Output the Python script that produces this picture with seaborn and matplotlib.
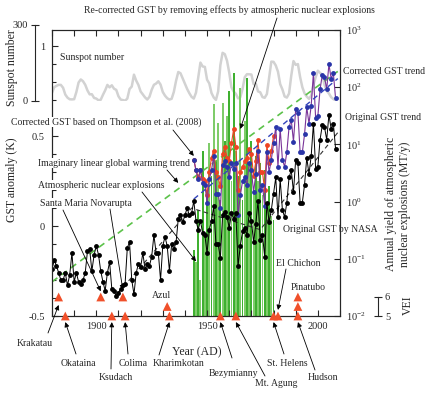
import numpy as np
import matplotlib
matplotlib.use("Agg")
import matplotlib.pyplot as plt
import matplotlib.ticker as mticker
import seaborn as sns

# ---------------- data ----------------
years = np.arange(1880, 2009)
gst_nasa = [-0.24, -0.19, -0.22, -0.26, -0.30, -0.30, -0.26, -0.33, -0.27, -0.15,
            -0.31, -0.26, -0.31, -0.32, -0.30, -0.26, -0.14, -0.13, -0.25, -0.16,
            -0.11, -0.16, -0.25, -0.31, -0.36, -0.26, -0.20, -0.35, -0.36, -0.39,
            -0.37, -0.35, -0.33, -0.32, -0.12, -0.09, -0.30, -0.38, -0.26, -0.21,
            -0.23, -0.15, -0.24, -0.21, -0.22, -0.17, -0.05, -0.15, -0.15, -0.30,
            -0.11, -0.06, -0.11, -0.25, -0.10, -0.13, -0.09, 0.04, 0.06, 0.02,
            0.06, 0.10, 0.06, 0.07, 0.14, 0.03, -0.02, 0.03, -0.04, -0.05,
            -0.15, -0.02, 0.03, 0.11, -0.10, -0.10, -0.18, 0.06, 0.08, 0.05,
            -0.01, 0.07, 0.04, 0.07, -0.22, -0.11, -0.03, -0.01, -0.05, 0.07,
            0.03, -0.09, 0.01, 0.14, -0.08, -0.05, -0.17, 0.13, 0.02, 0.09,
            0.18, 0.27, 0.05, 0.26, 0.09, 0.05, 0.13, 0.27, 0.31, 0.19,
            0.37, 0.35, 0.13, 0.13, 0.23, 0.38, 0.29, 0.39, 0.57, 0.32,
            0.33, 0.48, 0.56, 0.55, 0.48, 0.62, 0.54, 0.57, 0.43]

corr_years = np.arange(1944, 2009)
gst_corrected = [0.37, 0.31, 0.26, 0.31, 0.24, 0.23, 0.13, 0.26, 0.31, 0.39,
                 0.18, 0.18, 0.10, 0.34, 0.36, 0.33, 0.27, 0.35, 0.32, 0.35,
                 0.06, 0.17, 0.25, 0.27, 0.23, 0.35, 0.31, 0.19, 0.29, 0.42,
                 0.20, 0.23, 0.11, 0.41, 0.30, 0.37, 0.46, 0.55, 0.33, 0.54,
                 0.37, 0.33, 0.41, 0.55, 0.59, 0.47, 0.65, 0.63, 0.41, 0.41,
                 0.51, 0.66, 0.57, 0.67, 0.85, 0.60, 0.61, 0.76, 0.84, 0.83,
                 0.76, 0.90, 0.82, 0.85, 0.71]

recorr_years = np.arange(1944, 1981)
gst_recorrected = [0.37, 0.31, 0.27, 0.31, 0.26, 0.25, 0.17, 0.30, 0.38, 0.42,
                   0.30, 0.27, 0.22, 0.40, 0.44, 0.38, 0.36, 0.46, 0.54, 0.44,
                   0.20, 0.30, 0.33, 0.36, 0.38, 0.43, 0.40, 0.28, 0.36, 0.48,
                   0.30, 0.30, 0.20, 0.45, 0.35, 0.42, 0.50]

sunspot = [32.3, 54.3, 59.7, 63.7, 63.5, 52.2, 25.4, 13.1, 6.8, 6.3,
           7.1, 35.6, 73.0, 85.1, 78.0, 64.0, 41.8, 26.2, 26.7, 12.1,
           9.5, 2.7, 5.0, 24.4, 42.0, 63.5, 53.8, 62.0, 48.5, 43.9,
           18.6, 5.7, 3.6, 1.4, 9.6, 47.4, 57.1, 103.9, 80.6, 63.6,
           37.6, 26.1, 14.2, 5.8, 16.7, 44.3, 63.9, 69.0, 77.8, 64.9,
           35.7, 21.2, 11.1, 5.7, 8.7, 36.1, 79.7, 114.4, 109.6, 88.8,
           67.8, 47.5, 30.6, 16.3, 9.6, 33.2, 92.6, 151.6, 136.3, 134.7,
           83.9, 69.4, 31.5, 13.9, 4.4, 38.0, 141.7, 190.2, 184.8, 159.0,
           112.3, 53.9, 37.6, 27.9, 10.2, 15.1, 47.0, 93.8, 105.9, 105.5,
           104.5, 66.6, 68.9, 38.0, 34.5, 15.5, 12.6, 27.5, 92.5, 155.4,
           154.6, 140.4, 115.9, 66.6, 45.9, 17.9, 13.4, 29.4, 100.2, 157.6,
           142.6, 145.7, 94.3, 54.6, 29.9, 17.5, 8.6, 21.5, 64.3, 93.3,
           119.6, 111.0, 104.0, 63.7, 40.4, 29.8, 15.2, 7.5, 2.9]

nuke_years = np.arange(1944, 1981)
nuke_yield = [0.14, 0.087, 0.70, 0.042, 7.8, 0.26, 1.6, 10.7, 2.8, 51,
              5.2, 24, 1.05, 53, 11.6, 32, 87, 2.3, 178, 7.8,
              2.8, 95, 1.05, 26, 143, 4.3, 11.6, 1.6, 6.3, 2.3,
              4.8, 1.3, 3.5, 0.70, 1.9, 0.57, 0.47]

green_trend_x = [1880, 2009]
green_trend_y = [-0.31, 0.86]
blue_trend_x = [1944, 2009]
blue_trend_y = [0.15, 0.82]
black_trend_x = [1910, 1943, 1974, 2009]
black_trend_y = [-0.37, 0.10, -0.02, 0.52]

tri_years = [1883, 1886, 1902, 1907, 1912, 1913, 1932, 1933, 1956, 1963, 1980, 1982, 1991, 1991, 1991]
tri_vei = [6, 5, 6, 5, 6, 5, 5.5, 5, 5, 5, 5, 5, 5, 5.5, 6]

W, H = 435, 394


def fp(x, y):
    # image pixel -> figure fraction
    return (x / W, 1 - y / H)


sns.set_style("ticks")
plt.rcParams["font.family"] = ["Liberation Serif", "DejaVu Serif"]
plt.rcParams["mathtext.fontset"] = "stix"
plt.rcParams["axes.unicode_minus"] = False

fig = plt.figure(figsize=(W / 100, H / 100), dpi=100)
fig.patch.set_facecolor("white")

L, B = fp(52, 316)
R, T = fp(340, 30)
ax = fig.add_axes([L, B, R - L, T - B])
axr = ax.twinx()
ax_vei = ax.twinx()
_, ssb = fp(0, 101)
_, sst = fp(0, 25)
ax_ss = fig.add_axes([L, ssb, R - L, sst - ssb])

ax_ss.set_zorder(0)
axr.set_zorder(1)
ax.set_zorder(2)
ax_vei.set_zorder(3)
for a in (ax, axr, ax_vei, ax_ss):
    a.patch.set_visible(False)

# sunspot panel
sns.lineplot(x=years, y=sunspot, color="#d2d2d2", lw=1.8, ax=ax_ss)
ax_ss.set_xlim(1880, 2010)
ax_ss.set_ylim(0, 300)
for s in ("top", "right", "bottom"):
    ax_ss.spines[s].set_visible(False)
ax_ss.spines["left"].set_position(("outward", 12.2))
ax_ss.spines["left"].set_linewidth(0.8)
ax_ss.set_xticks([])
ax_ss.set_yticks([0, 300])
ax_ss.tick_params(axis="y", direction="inout", length=6, width=0.8, labelsize=7.5, pad=2)
ax_ss.set_ylabel("")

# nuclear yields (log axis)
bar_colors = ["#3fb030" if y % 2 == 0 else "#7fcc6a" for y in nuke_years]
axr.bar(nuke_years, np.array(nuke_yield) - 0.01, bottom=0.01, width=0.85,
        color=bar_colors, linewidth=0)
axr.set_yscale("log")
axr.set_ylim(0.01, 1000)
axr.yaxis.set_minor_locator(mticker.NullLocator())
axr.tick_params(axis="y", direction="in", length=4, width=0.8, labelsize=7.5, pad=4)

# GST series
sns.lineplot(x=green_trend_x, y=green_trend_y, color="#5cc24a", lw=1.2, ax=ax)
ax.lines[-1].set_dashes((4, 3))
sns.lineplot(x=black_trend_x, y=black_trend_y, color="#333333", lw=0.8, ax=ax)
ax.lines[-1].set_dashes((4, 3))
sns.lineplot(x=recorr_years, y=gst_recorrected, color="#ee4422", lw=0.8,
             marker="o", markersize=3.5, markeredgewidth=0, ax=ax)
sns.lineplot(x=corr_years, y=gst_corrected, color="#7a3499", lw=0.8,
             marker="o", markersize=3.5, markerfacecolor="#2a35a8",
             markeredgewidth=0, ax=ax)
sns.lineplot(x=blue_trend_x, y=blue_trend_y, color="#3344bb", lw=1.0, ax=ax)
ax.lines[-1].set_dashes((4, 3))
sns.lineplot(x=years, y=gst_nasa, color="black", lw=0.7,
             marker="o", markersize=3.5, markeredgewidth=0, ax=ax)

ax.set_xlim(1880, 2010)
ax.set_ylim(-0.5, 1.09)
ax.set_xticks([1900, 1950, 2000])
ax.set_xticks(np.arange(1880, 2011, 10), minor=True)
ax.set_yticks([-0.5, 0, 0.5, 1])
ax.set_yticklabels(["-0.5", "0", "0.5", "1"])
ax.yaxis.set_minor_locator(mticker.MultipleLocator(0.1))
ax.tick_params(which="both", direction="in", top=True, right=False, width=0.8, labelsize=7.5)
ax.tick_params(axis="x", which="both", length=4, pad=4)
ax.tick_params(axis="y", which="major", length=4, pad=5)
ax.tick_params(axis="y", which="minor", length=3)
ax.set_xlabel("")
ax.set_ylabel("")
for a in (ax, axr):
    for s in a.spines.values():
        s.set_linewidth(0.8)

# volcanoes (VEI axis)
sns.scatterplot(x=tri_years, y=tri_vei, marker="^", s=40, color="#f0502a",
                edgecolor="none", ax=ax_vei, clip_on=False, zorder=5)
ax_vei.set_ylim(5, 20.05)
for s in ("top", "left", "bottom"):
    ax_vei.spines[s].set_visible(False)
ax_vei.spines["right"].set_position(("outward", 27.4))
ax_vei.spines["right"].set_bounds(5, 6)
ax_vei.spines["right"].set_linewidth(0.8)
ax_vei.set_yticks([5, 6])
ax_vei.tick_params(axis="y", direction="inout", length=6, width=0.8, labelsize=7.5, pad=2)
ax_vei.set_ylabel("")

# ---------------- texts ----------------
fs = 7
white = dict(facecolor="white", edgecolor="none", pad=0.3)


def label(x, y, s, ha="center", bbox=None, size=fs, rot=0):
    fig.text(*fp(x, y), s, ha=ha, va="center", fontsize=size, bbox=bbox,
             rotation=rot, zorder=10, multialignment="center")


def arrow(tail, target, trans):
    ax_vei.annotate("", xy=target, xycoords=trans, xytext=fp(*tail),
                    textcoords="figure fraction", annotation_clip=False,
                    arrowprops=dict(arrowstyle="-|>", color="black", lw=0.6,
                                    mutation_scale=7, shrinkA=0, shrinkB=0))


label(229, 10, "Re-corrected GST by removing effects by atmospheric nuclear explosions")
arrow((277, 18), (1965, 0.54), ax.transData)
label(60, 57, "Sunspot number", ha="left")
label(106, 122, "Corrected GST based on Thompson et al. (2008)", bbox=white)
arrow((173, 130), (1944, 0.39), ax.transData)
label(114, 163, "Imaginary linear global warming trend", bbox=white)
arrow((167, 170), (1937, 0.24), ax.transData)
label(101, 185, "Atmospheric nuclear explosions", bbox=white)
arrow((142, 192), (1945, 0.09), axr.transData)
label(86, 203, "Santa Maria Novarupta", bbox=white)
arrow((63, 210), (1902, 6.3), ax_vei.transData)
arrow((110, 209), (1912, 6.37), ax_vei.transData)
label(343, 71, "Corrected GST trend", ha="left")
label(345, 117, "Original GST trend", ha="left")
label(283, 229, "Original GST by NASA", ha="left")
label(298, 263, "El Chichon")
arrow((286, 269), (1982, 5.32), ax_vei.transData)
label(308, 287, "Pinatubo")
label(162, 295, "Azul")

label(35, 343, "Krakatau")
arrow((48, 333), (1883, 5.58), ax_vei.transData)
label(78, 363, "Okataina")
arrow((76, 354), (1886, 4.68), ax_vei.transData)
label(116, 378, "Ksudach")
arrow((111, 369), (1907, 4.68), ax_vei.transData)
label(133, 363, "Colima")
arrow((128, 354), (1913, 4.68), ax_vei.transData)
label(179, 363, "Kharimkotan")
arrow((159, 355), (1933, 4.68), ax_vei.transData)
label(233, 373, "Bezymianny")
arrow((232, 358), (1956, 4.68), ax_vei.transData)
label(276, 383, "Mt. Agung")
arrow((265, 376), (1963, 4.68), ax_vei.transData)
label(287, 363, "St. Helens")
arrow((284, 354), (1980, 4.68), ax_vei.transData)
label(323, 378, "Hudson")
arrow((315, 370), (1991, 4.68), ax_vei.transData)

label(197, 352, "Year (AD)", size=8.5)
label(12, 180, "GST anomaly (K)", size=8.5, rot=90)
label(12, 68, "Sunspot number", size=8.5, rot=90)
label(398, 204, "Annual yield of atmospheric\nnuclear explosions (MT/y)", size=8.5, rot=90)
label(408, 305, "VEI", size=8.5, rot=90)

fig.savefig("out.png", dpi=100)
